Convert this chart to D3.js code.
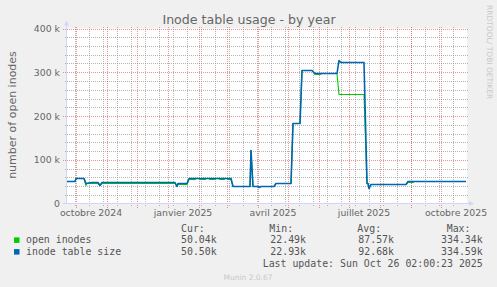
<!DOCTYPE html>
<html>
<head>
<meta charset="utf-8">
<script src="https://cdn.jsdelivr.net/npm/d3@7"></script>
<style>
  html, body { margin: 0; padding: 0; background: #f0f0f0; }
  svg { display: block; }
</style>
</head>
<body>
<div id="chart"></div>
<script>
// =====================================
// DATA (values in thousands)
// =====================================

const tableSizeDates = [
  "2024-09-22", "2024-09-30", "2024-10-01", "2024-10-09", "2024-10-11",
  "2024-10-17", "2024-10-23", "2024-10-25", "2024-10-27", "2025-01-08",
  "2025-01-10", "2025-01-11", "2025-01-20", "2025-01-22", "2025-03-05",
  "2025-03-07", "2025-03-24", "2025-03-25", "2025-03-27", "2025-03-30",
  "2025-04-01", "2025-04-02", "2025-04-04", "2025-04-17", "2025-04-19",
  "2025-05-04", "2025-05-06", "2025-05-13", "2025-05-15", "2025-05-25",
  "2025-05-28", "2025-06-19", "2025-06-21", "2025-06-23", "2025-06-30",
  "2025-07-06", "2025-07-16", "2025-07-19", "2025-07-20", "2025-07-21",
  "2025-07-23", "2025-08-27", "2025-08-29", "2025-10-26"
];
const tableSize = [
  51, 51, 57, 57, 46,
  47, 47, 42, 49, 49,
  40, 46, 46, 57, 57,
  40, 40, 122, 38, 40,
  40, 37, 40, 40, 46,
  46, 183, 183, 304, 304,
  298, 298, 326, 323, 322,
  323, 322, 45, 45, 35,
  44, 44, 50.5, 50.5
];

const openDates = [
  "2024-09-22", "2024-09-30", "2024-10-01", "2024-10-09", "2024-10-11",
  "2024-10-12", "2024-10-17", "2024-10-23", "2024-10-25", "2024-10-27",
  "2025-01-08", "2025-01-10", "2025-01-11", "2025-01-20", "2025-01-22",
  "2025-01-28", "2025-01-29", "2025-02-01", "2025-02-02", "2025-02-07",
  "2025-02-08", "2025-02-11", "2025-02-12", "2025-02-17", "2025-02-18",
  "2025-02-21", "2025-02-22", "2025-02-26", "2025-02-27", "2025-03-01",
  "2025-03-02", "2025-03-05", "2025-03-07", "2025-03-24", "2025-03-25",
  "2025-03-27", "2025-03-30", "2025-04-01", "2025-04-02", "2025-04-04",
  "2025-04-17", "2025-04-19", "2025-05-04", "2025-05-06", "2025-05-13",
  "2025-05-15", "2025-05-25", "2025-05-28", "2025-06-02", "2025-06-04",
  "2025-06-19", "2025-06-21", "2025-07-01", "2025-07-16", "2025-07-19",
  "2025-07-20", "2025-07-21", "2025-07-23", "2025-08-27", "2025-08-29",
  "2025-09-03", "2025-09-04", "2025-10-26"
];
const openInodes = [
  51, 51, 57, 57, 42,
  45, 45, 45, 41, 46,
  46, 38, 44, 44, 54,
  54, 57, 57, 54, 54,
  57, 57, 54, 54, 57,
  57, 54, 54, 57, 57,
  54, 54, 40, 40, 122,
  38, 40, 40, 37, 40,
  40, 46, 46, 183, 183,
  304, 304, 295, 295, 298,
  298, 250, 249, 249, 45,
  45, 35, 44, 44, 48,
  48, 50, 50
];

const seriesNames = ["open inodes", "inode table size"];
const seriesColors = ["#00cc00", "#0066b3"];
const seriesWidths = [1.1, 1.6];
const statHeaders = ["Cur:", "Min:", "Avg:", "Max:"];
const statValues = [
  ["50.04k", "22.49k", "87.57k", "334.34k"],
  ["50.50k", "22.93k", "92.68k", "334.59k"]
];

const yTicks = [0, 100, 200, 300, 400];
const frMonths = ["janvier", "février", "mars", "avril", "mai", "juin",
  "juillet", "août", "septembre", "octobre", "novembre", "décembre"];

// =====================================
// DIMENSIONS
// =====================================

const width = 497;
const height = 287;
const plot = { left: 67, right: 467, top: 28.5, bottom: 203.5 };

const svg = d3.select("#chart")
  .append("svg")
  .attr("width", width)
  .attr("height", height)
  .style("font-family", "'DejaVu Sans', sans-serif");

svg.append("rect")
  .attr("width", width)
  .attr("height", height)
  .attr("fill", "#f0f0f0");

// =====================================
// SCALES
// =====================================

const parse = d3.timeParse("%Y-%m-%d");
const start = parse("2024-09-22");
const end = parse("2025-10-27");

const x = d3.scaleTime()
  .domain([start, end])
  .range([plot.left, plot.right]);

const y = d3.scaleLinear()
  .domain([0, 400])
  .range([plot.bottom, plot.top]);

const locale = d3.timeFormatLocale({
  dateTime: "%A %e %B %Y à %X", date: "%d/%m/%Y", time: "%H:%M:%S",
  periods: ["AM", "PM"],
  days: ["dimanche", "lundi", "mardi", "mercredi", "jeudi", "vendredi", "samedi"],
  shortDays: ["dim.", "lun.", "mar.", "mer.", "jeu.", "ven.", "sam."],
  months: frMonths,
  shortMonths: frMonths
});
const fmtMonth = locale.format("%B %Y");

// canvas
svg.append("rect")
  .attr("x", plot.left)
  .attr("y", plot.top)
  .attr("width", plot.right - plot.left)
  .attr("height", plot.bottom - plot.top)
  .attr("fill", "#ffffff");

// =====================================
// GRID
// =====================================

const minorColor = "rgba(150,150,150,0.7)";
const majorColor = "rgba(222,79,79,0.6)";
const grid = svg.append("g").attr("shape-rendering", "crispEdges");

// horizontal minor every 20k
d3.range(20, 400, 20).filter(v => v % 100 !== 0).forEach(v => {
  const yy = Math.round(y(v)) + 0.5;
  grid.append("line")
    .attr("x1", plot.left - 2).attr("x2", plot.right + 1)
    .attr("y1", yy).attr("y2", yy)
    .attr("stroke", minorColor)
    .attr("stroke-dasharray", "1,1");
});

// vertical minor: every other monday
d3.timeMonday.range(start, end).filter((d, i) => i % 2 === 1).forEach(d => {
  const xx = Math.round(x(d)) + 0.5;
  grid.append("line")
    .attr("x1", xx).attr("x2", xx)
    .attr("y1", plot.top - 2).attr("y2", plot.bottom + 2)
    .attr("stroke", minorColor)
    .attr("stroke-dasharray", "1,1");
});

// major horizontal
yTicks.filter(v => v > 0).forEach(v => {
  const yy = Math.round(y(v)) + 0.5;
  grid.append("line")
    .attr("x1", plot.left - 4).attr("x2", plot.right + 1)
    .attr("y1", yy).attr("y2", yy)
    .attr("stroke", majorColor)
    .attr("stroke-dasharray", "1,1");
});

// major vertical: month starts
d3.timeMonth.range(start, end).forEach(d => {
  const xx = Math.round(x(d)) + 0.5;
  grid.append("line")
    .attr("x1", xx).attr("x2", xx)
    .attr("y1", plot.top - 2).attr("y2", plot.bottom + 4)
    .attr("stroke", majorColor)
    .attr("stroke-dasharray", "1,1");
});

// =====================================
// AXES
// =====================================

const axisColor = "#cfd6f8";

svg.append("line")
  .attr("x1", plot.left - 0.5).attr("x2", plot.left - 0.5)
  .attr("y1", plot.bottom + 0.5).attr("y2", plot.top - 3)
  .attr("stroke", axisColor);
svg.append("path")
  .attr("d", `M${plot.left - 3},${plot.top - 3}L${plot.left + 2},${plot.top - 3}L${plot.left - 0.5},${plot.top - 8}Z`)
  .attr("fill", axisColor);

svg.append("line")
  .attr("x1", plot.left - 4).attr("x2", plot.right + 2)
  .attr("y1", plot.bottom).attr("y2", plot.bottom)
  .attr("stroke", axisColor);
svg.append("path")
  .attr("d", `M${plot.right + 2},${plot.bottom - 2.5}L${plot.right + 2},${plot.bottom + 2.5}L${plot.right + 7},${plot.bottom}Z`)
  .attr("fill", axisColor);

// y tick labels
svg.selectAll(".ylab")
  .data(yTicks)
  .enter()
  .append("text")
  .attr("x", 60)
  .attr("y", d => y(d) + 3.5)
  .attr("text-anchor", "end")
  .style("font-size", "9.33px")
  .style("fill", "#666")
  .text(d => d === 0 ? "0" : `${d} k`);

// x tick labels, every 3 months, centered mid-month
svg.selectAll(".xlab")
  .data(d3.timeMonth.every(3).range(start, end))
  .enter()
  .append("text")
  .attr("x", d => x(d3.timeDay.offset(d, 15)))
  .attr("y", 216)
  .attr("text-anchor", "middle")
  .style("font-size", "9.33px")
  .style("fill", "#666")
  .text(d => fmtMonth(d));

// =====================================
// LINES
// =====================================

// snap to pixel centres like rrdtool does, so coincident lines don't bleed
const line = d3.line()
  .x(d => x(d[0]))
  .y(d => Math.round(y(d[1]) - 0.5) + 0.5);

const seriesData = [
  d3.zip(openDates.map(parse), openInodes),
  d3.zip(tableSizeDates.map(parse), tableSize)
];

svg.selectAll(".series")
  .data(seriesData)
  .enter()
  .append("path")
  .attr("d", line)
  .attr("fill", "none")
  .attr("stroke", (d, i) => seriesColors[i])
  .attr("stroke-width", (d, i) => seriesWidths[i])
  .attr("stroke-linejoin", "round");

// =====================================
// TITLE / LABELS
// =====================================

svg.append("text")
  .attr("x", 249)
  .attr("y", 23.5)
  .attr("text-anchor", "middle")
  .style("font-size", "12.6px")
  .style("fill", "#666")
  .text("Inode table usage - by year");

svg.append("text")
  .attr("transform", "translate(15.5,115) rotate(-90)")
  .attr("text-anchor", "middle")
  .style("font-size", "11px")
  .style("fill", "#666")
  .text("number of open inodes");

svg.append("text")
  .attr("transform", "translate(486.5,5) rotate(90)")
  .style("font-size", "7.5px")
  .style("fill", "#c8c8c8")
  .text("RRDTOOL/ TOBI OETIKER");

// =====================================
// LEGEND
// =====================================

const mono = "'DejaVu Sans Mono', monospace";
const headerX = [181, 269.3, 357.3, 446.7];
const valueRight = [216.7, 306, 394, 482.7];
const rowY = [243.4, 255.1];

svg.selectAll(".hdr")
  .data(statHeaders)
  .enter()
  .append("text")
  .attr("x", (d, i) => headerX[i])
  .attr("y", 231.6)
  .style("font-family", mono)
  .style("font-size", "9.9px")
  .style("fill", "#555")
  .text(d => d);

seriesNames.forEach((name, i) => {
  svg.append("rect")
    .attr("x", 14).attr("y", rowY[i] - 6)
    .attr("width", 5.5).attr("height", 5.5)
    .attr("fill", seriesColors[i]);

  svg.append("text")
    .attr("x", 26).attr("y", rowY[i])
    .style("font-family", mono)
    .style("font-size", "9.9px")
    .style("fill", "#555")
    .text(name);

  statValues[i].forEach((v, j) => {
    svg.append("text")
      .attr("x", valueRight[j]).attr("y", rowY[i])
      .attr("text-anchor", "end")
      .style("font-family", mono)
      .style("font-size", "9.9px")
      .style("fill", "#555")
      .text(v);
  });
});

svg.append("text")
  .attr("x", 482.7).attr("y", 266.8)
  .attr("text-anchor", "end")
  .style("font-family", mono)
  .style("font-size", "9.9px")
  .style("fill", "#555")
  .text("Last update: Sun Oct 26 02:00:23 2025");

svg.append("text")
  .attr("x", 248).attr("y", 279.5)
  .attr("text-anchor", "middle")
  .style("font-size", "7.5px")
  .style("fill", "#c8c8c8")
  .text("Munin 2.0.67");
</script>
</body>
</html>
